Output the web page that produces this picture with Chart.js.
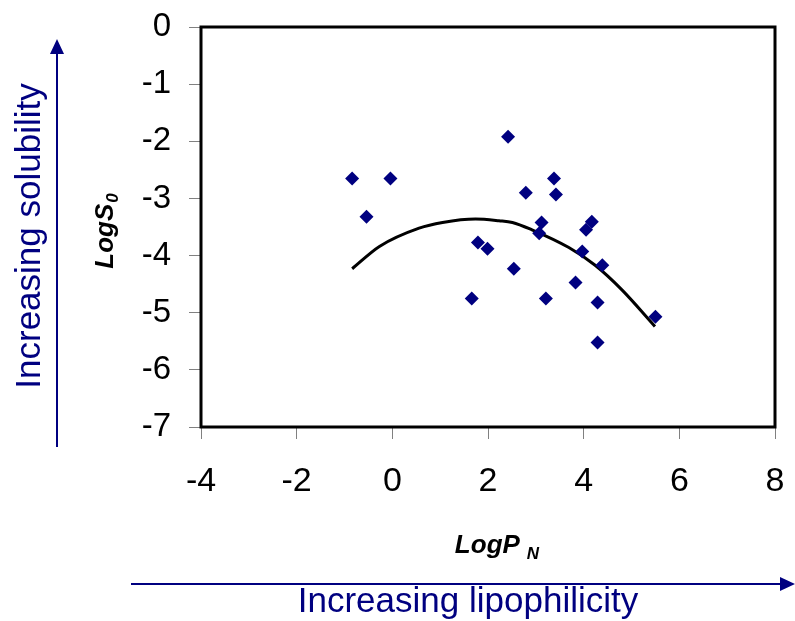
<!DOCTYPE html>
<html>
<head>
<meta charset="utf-8">
<script src="https://cdn.jsdelivr.net/npm/chart.js@4"></script>
<style>
  html, body { margin: 0; padding: 0; background: #fff; }
</style>
</head>
<body>
<canvas id="chart" width="795" height="621"></canvas>
<script>
// measured compounds
const logP = [-0.84, -0.04, -0.54, 1.79, 1.99, 1.66, 2.42, 3.38, 2.79, 3.42, 3.12, 3.07,
              4.17, 4.05, 3.97, 2.54, 4.39, 3.83, 3.21, 4.29, 5.50, 4.29];
const logS = [-2.65, -2.65, -3.32, -3.77, -3.88, -4.75, -1.92, -2.65, -2.90, -2.93, -3.42, -3.61,
              -3.41, -3.55, -3.93, -4.23, -4.17, -4.47, -4.75, -4.82, -5.07, -5.52];

// fitted curve
const fitP = [-0.84, -0.27, 0.56, 1.05, 1.74, 2.23, 2.51, 2.92, 3.69, 4.24, 4.80, 5.49];
const fitS = [-4.23, -3.84, -3.52, -3.42, -3.36, -3.39, -3.42, -3.55, -3.86, -4.17, -4.60, -5.24];

const xMin = -4, xMax = 8, xStep = 2;
const yMin = -7, yMax = 0, yStep = 1;

const FONT = '"Liberation Sans", Arial, sans-serif';
const NAVY = '#000080';

// Titles with subscripts and the two blue arrows
const decor = {
  id: 'decor',
  afterDraw(chart) {
    const { ctx, chartArea: a } = chart;
    ctx.save();

    // frame
    ctx.strokeStyle = '#000';
    ctx.lineWidth = 3;
    ctx.strokeRect(a.left, a.top, a.right - a.left, a.bottom - a.top);

    ctx.fillStyle = '#000';
    ctx.textBaseline = 'alphabetic';
    ctx.textAlign = 'left';

    // x title: LogP with subscript N
    ctx.font = 'italic bold 26px ' + FONT;
    const wP = ctx.measureText('LogP').width;
    ctx.font = 'italic bold 17px ' + FONT;
    const wN = ctx.measureText('N').width;
    let x0 = 497 - (wP + 7 + wN) / 2;
    ctx.font = 'italic bold 26px ' + FONT;
    ctx.fillText('LogP', x0, 553);
    ctx.font = 'italic bold 17px ' + FONT;
    ctx.fillText('N', x0 + wP + 7, 559);

    // y title (rotated): LogS with subscript 0
    ctx.save();
    ctx.translate(113, 231);
    ctx.rotate(-Math.PI / 2);
    ctx.font = 'italic bold 26px ' + FONT;
    const wS = ctx.measureText('LogS').width;
    ctx.font = 'italic bold 17px ' + FONT;
    const w0 = ctx.measureText('0').width;
    x0 = -(wS + 1 + w0) / 2;
    ctx.font = 'italic bold 26px ' + FONT;
    ctx.fillText('LogS', x0, 0);
    ctx.font = 'italic bold 17px ' + FONT;
    ctx.fillText('0', x0 + wS + 1, 5);
    ctx.restore();

    // arrows
    ctx.strokeStyle = NAVY;
    ctx.fillStyle = NAVY;
    ctx.lineWidth = 2;
    ctx.beginPath();
    ctx.moveTo(57, 447); ctx.lineTo(57, 50);
    ctx.stroke();
    ctx.beginPath();
    ctx.moveTo(57, 39); ctx.lineTo(50, 54); ctx.lineTo(64, 54); ctx.closePath();
    ctx.fill();

    ctx.beginPath();
    ctx.moveTo(131, 584); ctx.lineTo(784, 584);
    ctx.stroke();
    ctx.beginPath();
    ctx.moveTo(795, 584); ctx.lineTo(780, 577); ctx.lineTo(780, 591); ctx.closePath();
    ctx.fill();

    // arrow captions
    ctx.font = '35px ' + FONT;
    ctx.textAlign = 'center';
    ctx.textBaseline = 'middle';
    ctx.fillText('Increasing lipophilicity', 468, 602);
    ctx.save();
    ctx.translate(30, 236);
    ctx.rotate(-Math.PI / 2);
    ctx.fillText('Increasing solubility', 0, 0);
    ctx.restore();

    ctx.restore();
  }
};

const points = logP.map((p, i) => ({ x: p, y: logS[i] }));
const fit = fitP.map((p, i) => ({ x: p, y: fitS[i] }));

// keep tick labels from pushing the plot area around
const noPad = s => { s.paddingTop = 0; s.paddingBottom = 0; s.paddingLeft = 0; s.paddingRight = 0; };

new Chart(document.getElementById('chart'), {
  type: 'scatter',
  data: {
    datasets: [
      {
        label: 'fit',
        data: fit,
        showLine: true,
        borderColor: '#000',
        borderWidth: 3,
        pointRadius: 0,
        cubicInterpolationMode: 'monotone',
        order: 2
      },
      {
        label: 'LogS0',
        data: points,
        pointStyle: 'rectRot',
        pointRadius: 7,
        backgroundColor: NAVY,
        borderColor: NAVY,
        borderWidth: 0,
        order: 1
      }
    ]
  },
  options: {
    responsive: false,
    animation: false,
    layout: { padding: { top: 27, right: 20, left: 0, bottom: 0 } },
    plugins: { legend: { display: false }, tooltip: { enabled: false } },
    scales: {
      x: {
        type: 'linear',
        min: xMin, max: xMax,
        afterFit: s => { s.height = 194; noPad(s); },
        ticks: { stepSize: xStep, color: '#000', font: { family: FONT, size: 34 }, padding: 22 },
        grid: { drawOnChartArea: false, drawTicks: true, tickLength: 12, color: '#808080' },
        border: { display: false }
      },
      y: {
        type: 'linear',
        min: yMin, max: yMax,
        afterFit: s => { s.width = 201; noPad(s); },
        ticks: { stepSize: yStep, color: '#000', font: { family: FONT, size: 33 }, padding: 18 },
        grid: { drawOnChartArea: false, drawTicks: true, tickLength: 12, color: '#808080' },
        border: { display: false }
      }
    }
  },
  plugins: [decor]
});
</script>
</body>
</html>
